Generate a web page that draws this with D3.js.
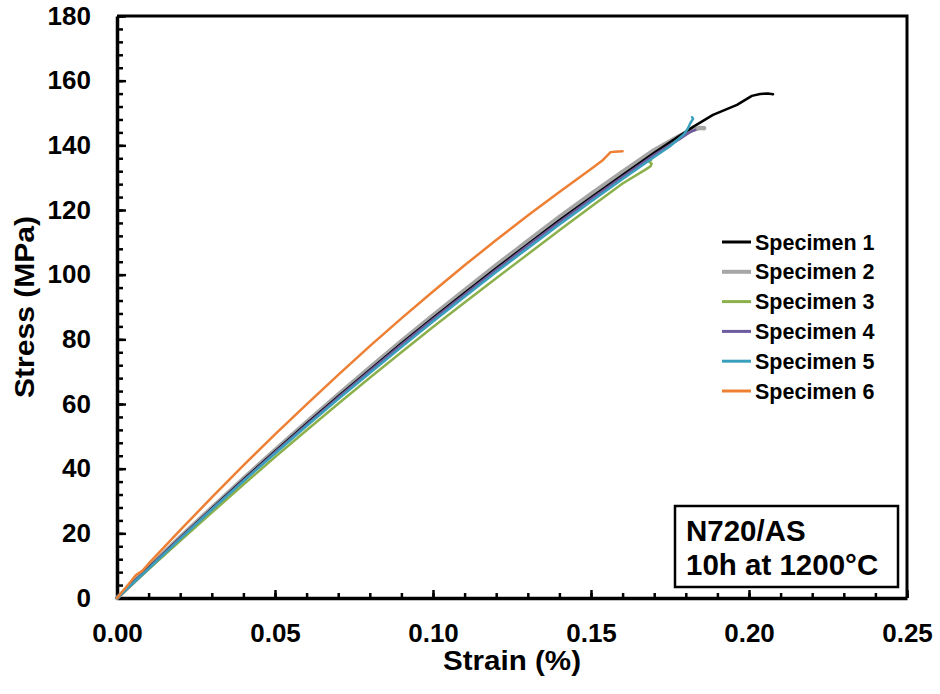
<!DOCTYPE html>
<html lang="en">
<head>
    <meta charset="UTF-8">
    <title>Stress-strain N720/AS</title>
    <script src="https://d3js.org/d3.v7.min.js"></script>
    <style>
        body { margin: 0; background: white; }
        text { font-family: "Liberation Sans", Arial, sans-serif; font-weight: bold; }
    </style>
</head>
<body>
    <script>
        // data: [strain %, stress MPa]
        var names = ["Specimen 1", "Specimen 2", "Specimen 3", "Specimen 4", "Specimen 5", "Specimen 6"];
        var colors = ["#000000", "#a6a6a6", "#8cb04b", "#6e5a9e", "#3a9fbd", "#ed8034"];
        var widths = [2.5, 4.5, 2.5, 2.5, 2.5, 2.5];

        var spec1 = [[0,0],[0.01,9.3],[0.02,18.6],[0.03,27.6],[0.04,36.6],[0.05,45.3],[0.06,53.9],[0.07,62.3],
            [0.08,70.5],[0.09,78.7],[0.10,86.6],[0.11,94.3],[0.12,102],[0.13,109.4],[0.14,116.8],[0.15,123.9],
            [0.16,130.8],[0.17,137.7],[0.1785,143.3],[0.1823,145.7],[0.1886,149.4],[0.1962,152.5],[0.2009,155.3],
            [0.2035,155.9],[0.2060,156.0],[0.2076,155.8]];
        var spec2 = [[0,0],[0.01,9.4],[0.02,18.8],[0.03,27.9],[0.04,36.9],[0.05,45.7],[0.06,54.4],[0.07,62.9],
            [0.08,71.2],[0.09,79.4],[0.10,87.4],[0.11,95.2],[0.12,102.9],[0.13,110.4],[0.14,117.8],[0.15,124.9],
            [0.16,131.8],[0.17,138.5],[0.178,142.9],[0.1825,144.9],[0.1845,145.4],[0.1858,145.3]];
        var spec3 = [[0,0],[0.01,8.9],[0.02,17.7],[0.03,26.4],[0.04,35.1],[0.05,43.6],[0.06,51.9],[0.07,60.1],
            [0.08,68.1],[0.09,76],[0.10,83.8],[0.11,91.4],[0.12,98.9],[0.13,106.3],[0.14,113.7],[0.15,121],
            [0.16,128.2],[0.1671,132.4],[0.1688,133.5],[0.1692,134.3],[0.1684,134.9],[0.1678,135.1],[0.1690,135.4]];
        var spec4 = [[0,0],[0.01,9.2],[0.02,18.5],[0.03,27.5],[0.04,36.4],[0.05,45.1],[0.06,53.6],[0.07,62],
            [0.08,70.2],[0.09,78.3],[0.10,86.2],[0.11,93.9],[0.12,101.5],[0.13,109],[0.14,116.3],[0.15,123.4],
            [0.16,130.3],[0.17,137.1],[0.178,141.9],[0.1815,144.2],[0.1830,144.8]];
        var spec5 = [[0,0],[0.01,9.1],[0.02,18.3],[0.03,27.3],[0.04,36.1],[0.05,44.7],[0.06,53.2],[0.07,61.5],
            [0.08,69.6],[0.09,77.6],[0.10,85.5],[0.11,93.2],[0.12,100.8],[0.13,108.2],[0.14,115.5],[0.15,122.6],
            [0.16,129.6],[0.17,136.4],[0.175,139.7],[0.1795,143.5],[0.1807,145.3],[0.1815,147],[0.1823,148.2],[0.1820,148.7]];
        var spec6 = [[0,0],[0.003,3.5],[0.006,7.1],[0.008,8.4],[0.01,10.6],[0.02,21],[0.03,31.1],[0.04,41],
            [0.05,50.6],[0.06,59.9],[0.07,69],[0.08,77.9],[0.09,86.5],[0.10,94.8],[0.11,102.9],[0.12,110.7],
            [0.13,118.3],[0.14,125.6],[0.15,132.7],[0.1535,135.2],[0.1562,137.9],[0.1575,138],[0.1600,138.2]];
        var series = [spec1, spec2, spec3, spec4, spec5, spec6];
        var drawOrder = [1, 0, 2, 3, 4, 5];

        var xTicks = [0, 0.05, 0.10, 0.15, 0.20, 0.25];
        var yTicks = [0, 20, 40, 60, 80, 100, 120, 140, 160, 180];
        var boxLines = ["N720/AS", "10h at 1200\u00B0C"];

        var W = 940, H = 694;
        var pLeft = 117, pRight = 907, pTop = 16, pBottom = 598;

        var svg = d3.select("body").append("svg")
            .attr("width", W)
            .attr("height", H);

        var x = d3.scaleLinear().domain([0, 0.25]).range([pLeft, pRight]);
        var y = d3.scaleLinear().domain([0, 180]).range([pBottom, pTop]);

        // minor ticks
        svg.append("g")
            .attr("transform", "translate(0," + pBottom + ")")
            .call(d3.axisBottom(x).tickValues(d3.range(0, 0.2501, 0.01)).tickSize(-5).tickSizeOuter(0).tickFormat(""))
            .call(function(g){ g.select(".domain").remove(); })
            .selectAll("line").attr("stroke-width", 2.5);
        svg.append("g")
            .attr("transform", "translate(" + pLeft + ",0)")
            .call(d3.axisLeft(y).tickValues(d3.range(0, 181, 4)).tickSize(-6).tickSizeOuter(0).tickFormat(""))
            .call(function(g){ g.select(".domain").remove(); })
            .selectAll("line").attr("stroke-width", 2.5);

        // frame
        svg.append("path")
            .attr("d", "M" + pLeft + "," + pTop + "H" + pRight + "V" + pBottom)
            .attr("fill", "none")
            .attr("stroke", "black")
            .attr("stroke-width", 3);

        var xAxis = svg.append("g")
            .attr("transform", "translate(0," + pBottom + ")")
            .call(d3.axisBottom(x).tickValues(xTicks).tickSize(-8).tickSizeOuter(0)
                .tickPadding(26).tickFormat(d3.format(".2f")));
        var yAxis = svg.append("g")
            .attr("transform", "translate(" + pLeft + ",0)")
            .call(d3.axisLeft(y).tickValues(yTicks).tickSize(-9).tickSizeOuter(0)
                .tickPadding(26));
        [xAxis, yAxis].forEach(function(a){
            a.select(".domain").attr("stroke-width", 3.5);
            a.selectAll("line").attr("stroke-width", 2.5);
            a.selectAll("text")
                .attr("font-size", 26)
                .attr("font-family", "'Liberation Sans', Arial, sans-serif")
                .attr("font-weight", "bold")
                .attr("fill", "black");
        });

        // curves
        var line = d3.line()
            .x(function(d){ return x(d[0]); })
            .y(function(d){ return y(d[1]); });
        drawOrder.forEach(function(i){
            svg.append("path")
                .datum(series[i])
                .attr("d", line)
                .attr("fill", "none")
                .attr("stroke", colors[i])
                .attr("stroke-width", widths[i])
                .attr("stroke-linejoin", "round")
                .attr("stroke-linecap", "round");
        });

        // axis titles
        svg.append("text")
            .attr("x", (pLeft + pRight) / 2)
            .attr("y", 670)
            .attr("text-anchor", "middle")
            .attr("font-size", 27)
            .attr("textLength", 138)
            .attr("lengthAdjust", "spacingAndGlyphs")
            .text("Strain (%)");
        svg.append("text")
            .attr("transform", "translate(34," + (pTop + pBottom) / 2 + ") rotate(-90)")
            .attr("text-anchor", "middle")
            .attr("font-size", 27)
            .attr("textLength", 182)
            .attr("lengthAdjust", "spacingAndGlyphs")
            .text("Stress (MPa)");

        // legend
        var legend = svg.append("g");
        names.forEach(function(n, i){
            var ly = 242 + i * 29.8;
            legend.append("line")
                .attr("x1", 722).attr("x2", 751)
                .attr("y1", ly).attr("y2", ly)
                .attr("stroke", colors[i])
                .attr("stroke-width", i === 1 ? 4 : 3);
            legend.append("text")
                .attr("x", 755)
                .attr("y", ly + 7.5)
                .attr("font-size", 21.5)
                .text(n);
        });

        // annotation box
        svg.append("rect")
            .attr("x", 675).attr("y", 506)
            .attr("width", 223).attr("height", 81)
            .attr("fill", "white")
            .attr("stroke", "black")
            .attr("stroke-width", 2.5);
        boxLines.forEach(function(t, i){
            svg.append("text")
                .attr("x", 686)
                .attr("y", 541 + i * 34)
                .attr("font-size", 29.5)
                .text(t);
        });
    </script>
</body>
</html>
